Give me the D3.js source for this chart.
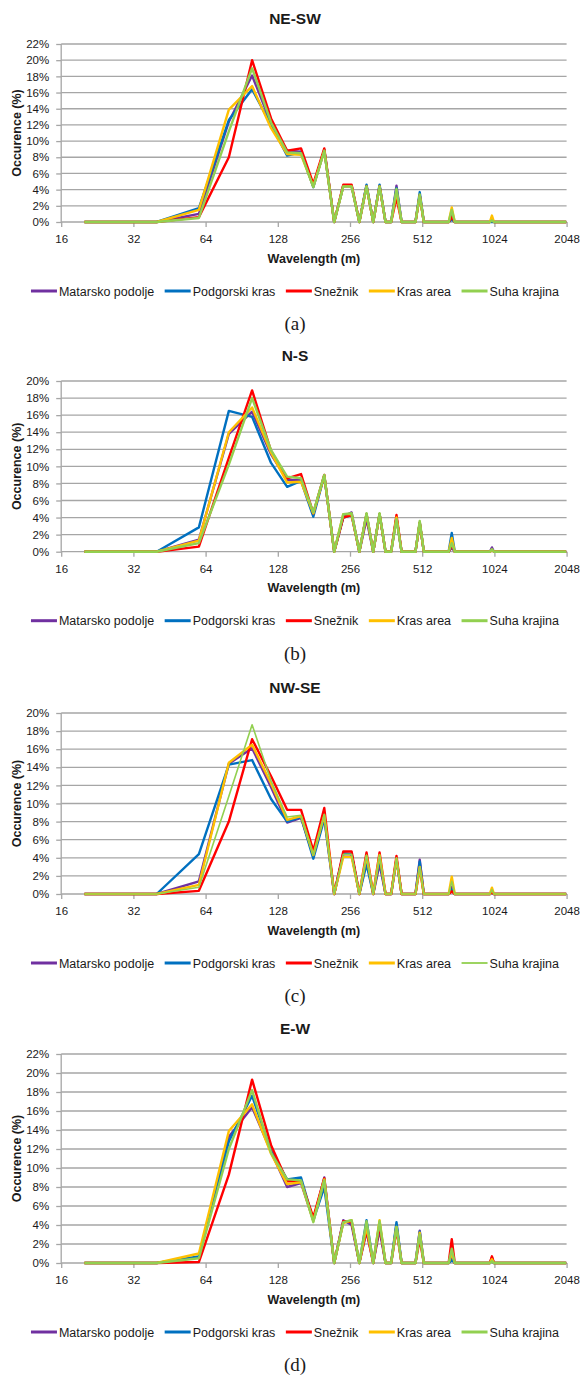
<!DOCTYPE html>
<html>
<head>
<meta charset="UTF-8">
<title>Wavelength occurence</title>
<script src="https://d3js.org/d3.v7.min.js"></script>
<style>
  body { margin: 0; background: #fff; }
  text { font-family: "Liberation Sans", Arial, sans-serif; fill: #1a1a1a; }
</style>
</head>
<body>
<div id="chart"></div>
<script>
// wavelengths (m) where the profiles have a value (all other multiples of 20 are zero)
var wavelengths = [20, 40, 60, 80, 100, 120, 140, 160, 180, 200, 220, 240, 260, 280, 300, 320, 340, 360, 380, 400, 420, 480, 500, 520, 660, 680, 700, 980, 1000, 1020, 2040];
var xTicks = [16, 32, 64, 128, 256, 512, 1024, 2048];
var seriesNames = ["Matarsko podolje", "Podgorski kras", "Snežnik", "Kras area", "Suha krajina"];
var panelTitles = ["NE-SW", "N-S", "NW-SE", "E-W"];
var panelTags = ["(a)", "(b)", "(c)", "(d)"];
var panelMax = [22, 20, 20, 22];

// occurence (%) - NE-SW
var neswMatarsko = [0, 0, 1.0, 12.4, 18.1, 12.2, 8.8, 8.7, 4.4, 8.9, 0, 4.5, 4.5, 0, 4.5, 0, 4.5, 0, 0, 4.5, 0, 0, 3.3, 0, 0, 0.8, 0, 0, 0.1, 0, 0];
var neswPodgorski = [0, 0, 1.7, 12.6, 16.4, 12.0, 8.2, 8.6, 4.3, 8.9, 0, 4.4, 4.4, 0, 4.6, 0, 4.6, 0, 0, 4.2, 0, 0, 3.7, 0, 0, 0.3, 0, 0, 0, 0, 0];
var neswSneznik = [0, 0, 0.6, 8.0, 20.0, 12.8, 8.8, 9.1, 4.7, 9.1, 0, 4.6, 4.6, 0, 4.4, 0, 4.4, 0, 0, 3.0, 0, 0, 3.3, 0, 0, 0.6, 0, 0, 0.3, 0, 0];
var neswKras = [0, 0, 1.5, 13.9, 16.8, 11.6, 8.4, 8.3, 4.4, 8.8, 0, 4.4, 4.4, 0, 4.4, 0, 4.4, 0, 0, 3.8, 0, 0, 3.2, 0, 0, 1.8, 0, 0, 0.8, 0, 0];
var neswSuha = [0, 0, 0.5, 11.2, 19.0, 12.3, 8.6, 8.5, 4.3, 8.8, 0, 4.4, 4.4, 0, 4.4, 0, 4.4, 0, 0, 4.1, 0, 0, 3.4, 0, 0, 1.5, 0, 0, 0.2, 0, 0];

// occurence (%) - N-S
var nsMatarsko = [0, 0, 1.4, 13.8, 16.4, 11.4, 8.4, 8.4, 4.5, 8.9, 0, 4.1, 4.6, 0, 3.8, 0, 4.4, 0, 0, 4.0, 0, 0, 3.4, 0, 0, 0.5, 0, 0, 0.5, 0, 0];
var nsPodgorski = [0, 0, 2.85, 16.5, 15.8, 10.4, 7.6, 8.3, 4.1, 8.9, 0, 4.0, 4.3, 0, 4.4, 0, 4.4, 0, 0, 4.0, 0, 0, 3.4, 0, 0, 2.2, 0, 0, 0.2, 0, 0];
var nsSneznik = [0, 0, 0.6, 11.0, 18.9, 11.8, 8.6, 9.1, 4.5, 9.0, 0, 4.0, 4.3, 0, 4.4, 0, 4.4, 0, 0, 4.3, 0, 0, 3.4, 0, 0, 0.8, 0, 0, 0.2, 0, 0];
var nsKras = [0, 0, 1.3, 14.0, 16.9, 11.6, 8.1, 8.2, 4.5, 8.9, 0, 4.4, 4.4, 0, 4.4, 0, 4.4, 0, 0, 4.0, 0, 0, 3.4, 0, 0, 1.6, 0, 0, 0.2, 0, 0];
var nsSuha = [0, 0, 1.0, 10.2, 18.0, 11.9, 8.8, 8.6, 4.6, 9.0, 0, 4.4, 4.5, 0, 4.5, 0, 4.5, 0, 0, 3.8, 0, 0, 3.6, 0, 0, 1.0, 0, 0, 0.3, 0, 0];

// occurence (%) - NW-SE
var nwseMatarsko = [0, 0, 1.4, 14.4, 16.1, 11.8, 7.9, 8.4, 4.3, 8.6, 0, 4.4, 4.4, 0, 3.8, 0, 3.3, 0, 0, 3.9, 0, 0, 3.8, 0, 0, 0.8, 0, 0, 0.2, 0, 0];
var nwsePodgorski = [0, 0, 4.4, 14.3, 14.8, 10.5, 8.0, 8.5, 3.9, 8.3, 0, 4.5, 4.4, 0, 3.3, 0, 3.8, 0, 0, 3.8, 0, 0, 3.6, 0, 0, 0.5, 0, 0, 0.2, 0, 0];
var nwseSneznik = [0, 0, 0.35, 8.0, 17.1, 13.0, 9.3, 9.3, 4.8, 9.5, 0, 4.7, 4.7, 0, 4.6, 0, 4.6, 0, 0, 4.2, 0, 0, 2.9, 0, 0, 0.3, 0, 0, 0.2, 0, 0];
var nwseKras = [0, 0, 1.0, 14.5, 16.5, 12.2, 8.2, 8.6, 4.3, 8.7, 0, 4.1, 4.1, 0, 4.2, 0, 4.3, 0, 0, 3.9, 0, 0, 3.0, 0, 0, 1.9, 0, 0, 0.7, 0, 0];
var nwseSuha = [0, 0, 0.75, 10.8, 18.7, 12.5, 8.5, 8.7, 4.3, 8.8, 0, 4.4, 4.4, 0, 4.3, 0, 4.3, 0, 0, 4.0, 0, 0, 3.0, 0, 0, 1.4, 0, 0, 0.5, 0, 0];

// occurence (%) - E-W
var ewMatarsko = [0, 0, 0.6, 13.3, 16.4, 11.7, 8.0, 8.4, 4.5, 9.0, 0, 4.5, 4.0, 0, 3.3, 0, 3.5, 0, 0, 4.0, 0, 0, 3.4, 0, 0, 0.5, 0, 0, 0.6, 0, 0];
var ewPodgorski = [0, 0, 0.7, 12.8, 17.6, 11.8, 8.8, 9.0, 4.5, 8.0, 0, 4.3, 4.4, 0, 4.5, 0, 4.2, 0, 0, 4.3, 0, 0, 3.3, 0, 0, 0.3, 0, 0, 0.2, 0, 0];
var ewSneznik = [0, 0, 0.1, 9.3, 19.3, 12.4, 8.6, 8.6, 4.8, 8.9, 0, 4.4, 4.3, 0, 3.5, 0, 4.0, 0, 0, 3.5, 0, 0, 2.5, 0, 0, 2.5, 0, 0, 0.7, 0, 0];
var ewKras = [0, 0, 1.0, 13.9, 16.7, 11.5, 8.3, 8.5, 4.4, 8.8, 0, 4.2, 4.5, 0, 3.8, 0, 4.5, 0, 0, 3.8, 0, 0, 3.2, 0, 0, 1.0, 0, 0, 0.4, 0, 0];
var ewSuha = [0, 0, 0.5, 12.0, 18.2, 11.6, 8.8, 8.7, 4.3, 8.7, 0, 4.3, 4.5, 0, 4.4, 0, 4.4, 0, 0, 3.8, 0, 0, 3.0, 0, 0, 1.5, 0, 0, 0.2, 0, 0];

var panelValues = [
  [neswMatarsko, neswPodgorski, neswSneznik, neswKras, neswSuha],
  [nsMatarsko, nsPodgorski, nsSneznik, nsKras, nsSuha],
  [nwseMatarsko, nwsePodgorski, nwseSneznik, nwseKras, nwseSuha],
  [ewMatarsko, ewPodgorski, ewSneznik, ewKras, ewSuha]
];

// styles
var seriesColors = ["#7030a0", "#0070c0", "#ff0000", "#ffc000", "#92d050"];
var gridColor = "#a6a6a6";

// plot box of each panel (top = max gridline, bottom = 0%)
var panelBox = [
  {top: 44, bottom: 222},
  {top: 381, bottom: 551.7},
  {top: 713, bottom: 894},
  {top: 1054, bottom: 1263}
];
var plotLeft = 61.2, plotRight = 566.6, centerX = 295;

var svg = d3.select("#chart")
  .append("svg")
    .attr("width", 583)
    .attr("height", 1375);

var x = d3.scaleLog().base(2)
  .domain([16, 2048])
  .range([plotLeft, plotRight]);

panelTitles.forEach(function(title, p) {
  var box = panelBox[p];
  var g = svg.append("g");

  var y = d3.scaleLinear()
    .domain([0, panelMax[p]])
    .range([box.bottom, box.top]);
  var yTicks = d3.range(0, panelMax[p] + 1, 2);

  // horizontal gridlines
  g.selectAll(".grid")
    .data(yTicks)
    .enter()
    .append("line")
      .attr("x1", plotLeft)
      .attr("x2", plotRight)
      .attr("y1", function(d) { return y(d); })
      .attr("y2", function(d) { return y(d); })
      .attr("stroke", gridColor)
      .attr("stroke-width", 1.3);

  // y axis
  var yAxis = g.append("g")
    .attr("transform", "translate(" + plotLeft + ",0)")
    .call(d3.axisLeft(y).tickValues(yTicks).tickFormat(function(d) { return d + "%"; }).tickSize(5).tickPadding(7));
  yAxis.select(".domain").remove();
  yAxis.selectAll("line").attr("stroke", gridColor).attr("stroke-width", 1.3);
  yAxis.selectAll("text").style("font-size", "11.5px").style("font-family", "Liberation Sans, Arial, sans-serif").attr("fill", "#1a1a1a");
  g.append("line")
    .attr("x1", plotLeft).attr("x2", plotLeft)
    .attr("y1", box.top).attr("y2", box.bottom)
    .attr("stroke", gridColor).attr("stroke-width", 1.3);

  // x axis
  var xAxis = g.append("g")
    .attr("transform", "translate(0," + box.bottom + ")")
    .call(d3.axisBottom(x).tickValues(xTicks).tickFormat(d3.format("d")).tickSize(5).tickPadding(8));
  xAxis.select(".domain").remove();
  xAxis.selectAll("line").attr("stroke", gridColor).attr("stroke-width", 1.3);
  xAxis.selectAll("text").style("font-size", "11.5px").style("font-family", "Liberation Sans, Arial, sans-serif").attr("fill", "#1a1a1a");

  // series lines
  var line = d3.line()
    .x(function(d) { return x(d[0]); })
    .y(function(d) { return y(d[1]); });

  panelValues[p].forEach(function(vals, s) {
    var pts = wavelengths.map(function(w, i) { return [w, vals[i]]; });
    g.append("path")
      .datum(pts)
      .attr("d", line)
      .attr("fill", "none")
      .attr("stroke", seriesColors[s])
      .attr("stroke-width", (p == 2 && s == 4) ? 1.6 : 2.4)
      .attr("stroke-linejoin", "round");
  });

  // titles
  g.append("text")
    .attr("x", centerX)
    .attr("y", box.top - 20.5)
    .attr("text-anchor", "middle")
    .style("font-size", "15.5px")
    .style("font-weight", "bold")
    .text(title);

  g.append("text")
    .attr("x", (plotLeft + plotRight) / 2)
    .attr("y", box.bottom + 40.5)
    .attr("text-anchor", "middle")
    .style("font-size", "12.5px")
    .style("font-weight", "bold")
    .text("Wavelength (m)");

  g.append("text")
    .attr("transform", "translate(20.5," + (box.top + box.bottom) / 2 + ") rotate(-90)")
    .attr("text-anchor", "middle")
    .style("font-size", "12.5px")
    .style("font-weight", "bold")
    .text("Occurence (%)");

  // legend
  var legY = box.bottom + 69;
  var leg = g.append("g");
  var cursor = 0;
  seriesNames.forEach(function(name, s) {
    leg.append("line")
      .attr("x1", cursor).attr("x2", cursor + 26)
      .attr("y1", legY).attr("y2", legY)
      .attr("stroke", seriesColors[s])
      .attr("stroke-width", (p == 2 && s == 4) ? 1.8 : 3);
    var t = leg.append("text")
      .attr("x", cursor + 28)
      .attr("y", legY + 4.5)
      .style("font-size", "12.5px")
      .text(name);
    cursor += 28 + t.node().getComputedTextLength() + 10.5;
  });
  var legW = cursor - 10.5;
  leg.attr("transform", "translate(" + (centerX - legW / 2) + ",0)");

  // panel tag
  g.append("text")
    .attr("x", centerX)
    .attr("y", box.bottom + 108)
    .attr("text-anchor", "middle")
    .style("font-family", "Liberation Serif, Times New Roman, serif")
    .style("font-size", "19px")
    .text(panelTags[p]);
});
</script>
</body>
</html>
